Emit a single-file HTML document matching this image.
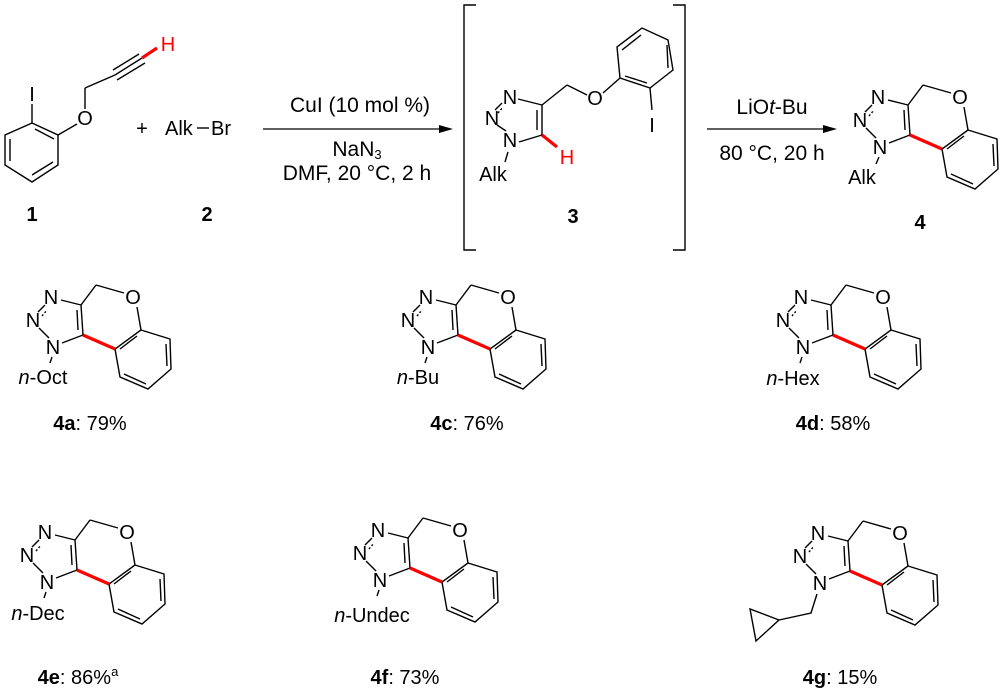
<!DOCTYPE html>
<html><head><meta charset="utf-8"><style>
html,body{margin:0;padding:0;background:#fff}
svg{display:block}
text{font-family:"Liberation Sans",Arial,sans-serif;fill:#000}
</style></head><body>
<svg width="1004" height="691" viewBox="0 0 1004 691" xmlns="http://www.w3.org/2000/svg">
<defs>
<g id="core" stroke="#000" stroke-width="1.4" fill="none">
  <line x1="-4" y1="-9" x2="-14" y2="-19"/>
  <line x1="-15" y1="-35" x2="-8" y2="-42"/>
  <line x1="-11" y1="-31" x2="-6" y2="-37" stroke-dasharray="2,2"/>
  <line x1="8" y1="-47" x2="28" y2="-42"/>
  <line x1="28" y1="-42" x2="30" y2="-12"/>
  <line x1="24" y1="-37" x2="25" y2="-17"/>
  <line x1="30" y1="-12" x2="9" y2="-4"/>
  <line x1="28" y1="-42" x2="43" y2="-62"/>
  <line x1="43" y1="-62" x2="71" y2="-54"/>
  <line x1="84" y1="-40" x2="88" y2="-17"/>
  <polyline points="88,-17 117,-8 118,22 95,42 67,30 62,2 88,-17"/>
  <line x1="84" y1="-11" x2="67" y2="2"/>
  <line x1="113" y1="-3" x2="114" y2="19"/>
  <line x1="93" y1="37" x2="71" y2="27"/>
  <line x1="30" y1="-12" x2="62" y2="2" stroke="#f00" stroke-width="3.2"/>
</g>
<g id="prod">
  <use href="#core"/>
  <g font-size="20" text-anchor="middle">
    <text x="0" y="7">N</text>
    <text x="-20" y="-20">N</text>
    <text x="-2" y="-43">N</text>
    <text x="80" y="-43">O</text>
  </g>
</g>
</defs>

<!-- compound 1 -->
<g stroke="#000" stroke-width="1.4" fill="none">
  <polyline points="32,123 58,135 58,165 32,182 5,165 5,135 32,123"/>
  <line x1="35" y1="129" x2="54" y2="139"/>
  <line x1="53" y1="162" x2="32" y2="175"/>
  <line x1="10" y1="161" x2="10" y2="139"/>
  <line x1="32" y1="123" x2="32" y2="104"/>
  <line x1="58" y1="135" x2="77" y2="124"/>
  <line x1="85" y1="109" x2="85" y2="88"/>
  <line x1="85" y1="88" x2="115" y2="75"/>
  <line x1="115" y1="75" x2="142" y2="58"/>
  <line x1="113" y1="70" x2="139" y2="54"/>
  <line x1="117" y1="80" x2="145" y2="63"/>
  <line x1="142" y1="58" x2="157" y2="48" stroke="#f00" stroke-width="3.2"/>
  <line x1="197" y1="128" x2="209" y2="128"/>
</g>
<g font-size="20">
  <text x="32" y="101" text-anchor="middle">I</text>
  <text x="85" y="125" text-anchor="middle">O</text>
  <text x="168" y="51" text-anchor="middle" style="fill:#f00">H</text>
  <text x="142" y="135" text-anchor="middle">+</text>
  <text x="165" y="135">Alk</text>
  <text x="211" y="135">Br</text>
  <text x="32" y="221" text-anchor="middle" font-weight="bold">1</text>
  <text x="207" y="221" text-anchor="middle" font-weight="bold">2</text>
</g>

<!-- arrow 1 -->
<line x1="263" y1="129" x2="442" y2="129" stroke="#000" stroke-width="1.3"/>
<polygon points="453,129 439,125 439,133" fill="#000"/>
<g font-size="21" text-anchor="middle">
  <text x="360" y="112">CuI (10 mol %)</text>
  <text x="357" y="156">NaN<tspan font-size="13" dy="3">3</tspan></text>
  <text x="357" y="180">DMF, 20 °C, 2 h</text>
</g>

<!-- brackets -->
<polyline points="476,5 464,5 464,250 476,250" stroke="#000" stroke-width="1.4" fill="none"/>
<polyline points="673,5 685,5 685,250 673,250" stroke="#000" stroke-width="1.4" fill="none"/>

<!-- compound 3 -->
<g stroke="#000" stroke-width="1.4" fill="none">
  <line x1="506" y1="131" x2="497" y2="125"/>
  <line x1="495" y1="110" x2="502" y2="103"/>
  <line x1="498" y1="113" x2="503" y2="107" stroke-dasharray="2,2"/>
  <line x1="518" y1="99" x2="542" y2="105"/>
  <line x1="542" y1="105" x2="542" y2="135"/>
  <line x1="537" y1="110" x2="537" y2="130"/>
  <line x1="542" y1="135" x2="519" y2="142"/>
  <line x1="542" y1="135" x2="557" y2="147" stroke="#f00" stroke-width="3.2"/>
  <line x1="542" y1="105" x2="567" y2="85"/>
  <line x1="567" y1="85" x2="587" y2="95"/>
  <line x1="603" y1="93" x2="620" y2="78"/>
  <polyline points="620,78 617,47 642,28 668,40 673,70 650,88 620,78"/>
  <line x1="622" y1="50" x2="641" y2="35"/>
  <line x1="667" y1="45" x2="668" y2="68"/>
  <line x1="647" y1="83" x2="625" y2="76"/>
  <line x1="650" y1="88" x2="652" y2="110"/>
  <line x1="508" y1="152" x2="505" y2="162"/>
</g>
<g font-size="20" text-anchor="middle">
  <text x="510" y="104">N</text>
  <text x="492" y="125">N</text>
  <text x="510" y="147">N</text>
  <text x="595" y="105">O</text>
  <text x="652" y="132">I</text>
  <text x="567" y="164" style="fill:#f00">H</text>
  <text x="493" y="181">Alk</text>
  <text x="573" y="223" font-weight="bold">3</text>
</g>

<!-- arrow 2 -->
<line x1="707" y1="129" x2="826" y2="129" stroke="#000" stroke-width="1.3"/>
<polygon points="837,129 823,125 823,133" fill="#000"/>
<g font-size="21" text-anchor="middle">
  <text x="772" y="114">LiO<tspan font-style="italic">t</tspan>-Bu</text>
  <text x="772" y="160">80 °C, 20 h</text>
</g>

<!-- product 4 -->
<use href="#prod" x="880" y="147"/>
<line x1="879" y1="157" x2="876" y2="164" stroke="#000" stroke-width="1.4"/>
<text x="862" y="184" font-size="20" text-anchor="middle">Alk</text>
<text x="920" y="229" font-size="20" text-anchor="middle" font-weight="bold">4</text>

<!-- 4a -->
<use href="#prod" x="53" y="347"/>
<line x1="52" y1="357" x2="50" y2="363" stroke="#000" stroke-width="1.4"/>
<text x="43" y="384" font-size="20" text-anchor="middle"><tspan font-style="italic">n</tspan>-Oct</text>
<text x="90" y="430" font-size="20" text-anchor="middle"><tspan font-weight="bold">4a</tspan>: 79%</text>

<!-- 4c -->
<use href="#prod" x="428" y="347"/>
<line x1="427" y1="357" x2="425" y2="363" stroke="#000" stroke-width="1.4"/>
<text x="418" y="384" font-size="20" text-anchor="middle"><tspan font-style="italic">n</tspan>-Bu</text>
<text x="467" y="430" font-size="20" text-anchor="middle"><tspan font-weight="bold">4c</tspan>: 76%</text>

<!-- 4d -->
<use href="#prod" x="803" y="347"/>
<line x1="802" y1="357" x2="800" y2="363" stroke="#000" stroke-width="1.4"/>
<text x="793" y="385" font-size="20" text-anchor="middle"><tspan font-style="italic">n</tspan>-Hex</text>
<text x="833" y="430" font-size="20" text-anchor="middle"><tspan font-weight="bold">4d</tspan>: 58%</text>

<!-- 4e -->
<use href="#prod" x="47" y="582"/>
<line x1="46" y1="592" x2="44" y2="598" stroke="#000" stroke-width="1.4"/>
<text x="38" y="620" font-size="20" text-anchor="middle"><tspan font-style="italic">n</tspan>-Dec</text>
<text x="78" y="684" font-size="20" text-anchor="middle"><tspan font-weight="bold">4e</tspan>: 86%<tspan font-size="13" dy="-8">a</tspan></text>

<!-- 4f -->
<use href="#prod" x="380" y="580"/>
<line x1="379" y1="590" x2="377" y2="596" stroke="#000" stroke-width="1.4"/>
<text x="372" y="622" font-size="20" text-anchor="middle"><tspan font-style="italic">n</tspan>-Undec</text>
<text x="405" y="684" font-size="20" text-anchor="middle"><tspan font-weight="bold">4f</tspan>: 73%</text>

<!-- 4g -->
<use href="#prod" x="820" y="583"/>
<g stroke="#000" stroke-width="1.4" fill="none">
  <polyline points="817,594 811,613 779,620"/>
  <polygon points="779,620 750,609 756,641"/>
</g>
<text x="840" y="684" font-size="20" text-anchor="middle"><tspan font-weight="bold">4g</tspan>: 15%</text>
</svg>
</body></html>
